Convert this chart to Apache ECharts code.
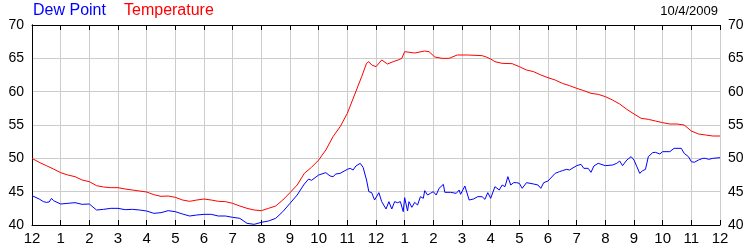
<!DOCTYPE html>
<html><head><meta charset="utf-8">
<script src="https://cdn.jsdelivr.net/npm/echarts@6/dist/echarts.min.js"></script>
<style>html,body{margin:0;padding:0;background:#fff}#c{width:750px;height:250px}</style>
</head><body><div id="c"></div>
<script>
var seriesNames = ['Dew Point', 'Temperature'];
var dateLabel = '10/4/2009';
var hourLabels = ['12','1','2','3','4','5','6','7','8','9','10','11','12','1','2','3','4','5','6','7','8','9','10','11','12'];
var yTicks = [40, 45, 50, 55, 60, 65, 70];

var tempHours = [0,0.25,0.5,0.75,1,1.25,1.5,1.75,2,2.25,2.5,2.75,3,3.25,3.5,3.75,4,4.25,4.5,4.75,5,5.25,5.5,5.75,6,6.25,6.5,6.75,7,7.25,7.5,7.75,8,8.25,8.5,8.75,9,9.25,9.5,9.75,10,10.25,10.5,10.75,11,11.25,11.5,11.67,11.75,11.85,12,12.2,12.4,12.6,12.77,12.9,13,13.35,13.7,13.85,14.05,14.3,14.55,14.83,15.2,15.7,15.85,16,16.15,16.4,16.75,17,17.25,17.5,17.75,18,18.25,18.5,18.75,19,19.25,19.5,19.75,20,20.25,20.5,20.75,21,21.25,21.5,21.75,22,22.25,22.5,22.75,23,23.25,23.5,23.75,24];
var tempValues = [50.0,49.4,48.9,48.4,47.85,47.5,47.25,46.75,46.5,45.9,45.7,45.6,45.6,45.4,45.25,45.1,44.95,44.55,44.3,44.35,44.15,43.75,43.55,43.75,43.9,43.75,43.55,43.5,43.25,42.85,42.5,42.25,42.15,42.5,42.85,43.75,44.85,46.0,47.75,48.65,49.75,51.25,53.25,54.75,56.75,59.5,62.25,64.25,64.5,64.0,63.75,64.75,64.15,64.5,64.75,65.0,66.0,65.8,66.1,66.0,65.2,65.0,65.0,65.5,65.5,65.4,65.2,64.9,64.5,64.25,64.2,63.75,63.25,63.0,62.5,62.1,61.75,61.25,60.9,60.5,60.15,59.75,59.6,59.25,58.75,58.15,57.35,56.65,56.0,55.85,55.6,55.35,55.15,55.15,55.0,54.1,53.65,53.5,53.35,53.35];

var dewHours = [0,0.25,0.4,0.5,0.6,0.68,0.75,1,1.25,1.5,1.75,2,2.25,2.5,2.75,3,3.25,3.5,3.75,4,4.25,4.5,4.75,5,5.25,5.5,5.75,6,6.25,6.5,6.75,7,7.25,7.5,7.75,8,8.25,8.5,8.75,9,9.25,9.5,9.65,9.75,10,10.25,10.4,10.5,10.6,10.75,11,11.1,11.2,11.3,11.45,11.55,11.67,11.75,11.85,11.95,12.1,12.2,12.35,12.45,12.55,12.65,12.75,12.85,12.95,13.0,13.1,13.15,13.25,13.35,13.45,13.55,13.65,13.7,13.8,13.9,14.0,14.1,14.2,14.35,14.4,14.6,14.8,14.9,14.95,15.1,15.25,15.4,15.55,15.7,15.8,15.9,16.0,16.15,16.3,16.4,16.5,16.6,16.7,16.8,16.9,17,17.1,17.25,17.5,17.65,17.75,17.85,18,18.25,18.4,18.5,18.65,18.75,19,19.15,19.25,19.4,19.5,19.6,19.75,20,20.25,20.4,20.5,20.6,20.75,20.9,21.0,21.1,21.2,21.3,21.4,21.5,21.65,21.75,21.9,22,22.25,22.4,22.5,22.65,22.75,22.9,23.0,23.1,23.25,23.4,23.5,23.6,23.75,24];
var dewValues = [44.4,43.9,43.5,43.4,43.45,44.0,43.65,43.15,43.25,43.35,43.1,43.15,42.25,42.35,42.5,42.5,42.3,42.35,42.25,42.1,41.75,41.85,42.15,42.0,41.65,41.35,41.5,41.6,41.6,41.35,41.35,41.15,41.0,40.25,40.1,40.4,40.6,41.0,42.0,43.25,44.5,46.15,46.9,46.7,47.5,47.85,47.35,47.25,47.65,47.75,48.35,48.5,48.25,48.85,49.25,48.65,46.75,45.0,44.85,43.75,44.85,43.5,42.4,43.5,42.4,43.5,43.35,43.5,42.0,44.1,42.1,43.5,42.65,43.4,43.0,44.25,44.0,45.15,44.5,44.75,45.0,44.5,45.5,46.1,44.9,44.9,44.75,45.25,44.6,45.85,43.75,43.9,44.25,44.25,43.85,44.85,44.0,45.75,45.25,46.0,45.75,47.25,46.0,46.35,46.35,46.25,45.5,46.35,46.15,46.0,45.5,46.35,46.6,47.75,48.0,48.15,48.35,48.25,48.9,49.1,48.5,48.5,47.9,48.85,49.25,48.9,49.0,49.25,49.6,48.9,49.75,50.25,49.75,48.75,47.75,48.15,48.35,50.25,50.85,50.9,50.65,51.0,51.0,51.5,51.5,51.5,50.75,50.25,49.5,49.4,49.75,50.0,50.0,49.85,50.0,50.1];

function pairs(xs, ys) { return xs.map(function (x, i) { return [x, ys[i]]; }); }

var FONT = '"Liberation Sans", Arial, sans-serif';
var chart = echarts.init(document.getElementById('c'), null, { renderer: 'canvas' });
var xAxisBase = {
  type: 'value', min: 0, max: 24, interval: 1,
  axisLine: { show: true, lineStyle: { color: '#000', width: 1 } },
  axisTick: { show: true, inside: true, length: 5, lineStyle: { color: '#000' } },
  splitLine: { show: false }
};
var yAxisBase = {
  type: 'value', min: yTicks[0], max: yTicks[yTicks.length - 1], interval: 5,
  axisLine: { show: true, lineStyle: { color: '#000', width: 1 } },
  axisTick: { show: false },
  axisLabel: { color: '#000', fontSize: 14, fontFamily: FONT, margin: 8 },
  splitLine: { show: false }
};
chart.setOption({
  animation: false,
  backgroundColor: '#fff',
  grid: { left: 32, right: 30, top: 25, bottom: 25, containLabel: false },
  graphic: [
    { type: 'text', left: 33, top: 3, style: { text: seriesNames[0], fill: '#0000ff', font: '16px ' + FONT } },
    { type: 'text', left: 124, top: 3, style: { text: seriesNames[1], fill: '#ff0000', font: '16px ' + FONT } },
    { type: 'text', right: 32, top: 5, style: { text: dateLabel, fill: '#000', font: '13px ' + FONT } }
  ],
  xAxis: [
    Object.assign({}, xAxisBase, {
      position: 'bottom',
      axisLabel: { color: '#000', fontSize: 15, fontFamily: FONT, margin: 6,
        formatter: function (v) { return hourLabels[Math.round(v)]; } },
      splitLine: { show: true, lineStyle: { color: '#cccccc', width: 1 } }
    }),
    Object.assign({}, xAxisBase, { position: 'top', axisLabel: { show: false } })
  ],
  yAxis: [
    Object.assign({}, yAxisBase, { position: 'left',
      splitLine: { show: true, lineStyle: { color: '#cccccc', width: 1 } } }),
    Object.assign({}, yAxisBase, { position: 'right' })
  ],
  series: [
    { name: seriesNames[0], type: 'line', xAxisIndex: 0, yAxisIndex: 0, data: pairs(dewHours, dewValues),
      showSymbol: false, symbol: 'none', lineStyle: { color: '#0000ff', width: 1 }, z: 3 },
    { name: seriesNames[1], type: 'line', xAxisIndex: 0, yAxisIndex: 0, data: pairs(tempHours, tempValues),
      showSymbol: false, symbol: 'none', lineStyle: { color: '#ff0000', width: 1 }, z: 4 }
  ]
});
</script></body></html>
